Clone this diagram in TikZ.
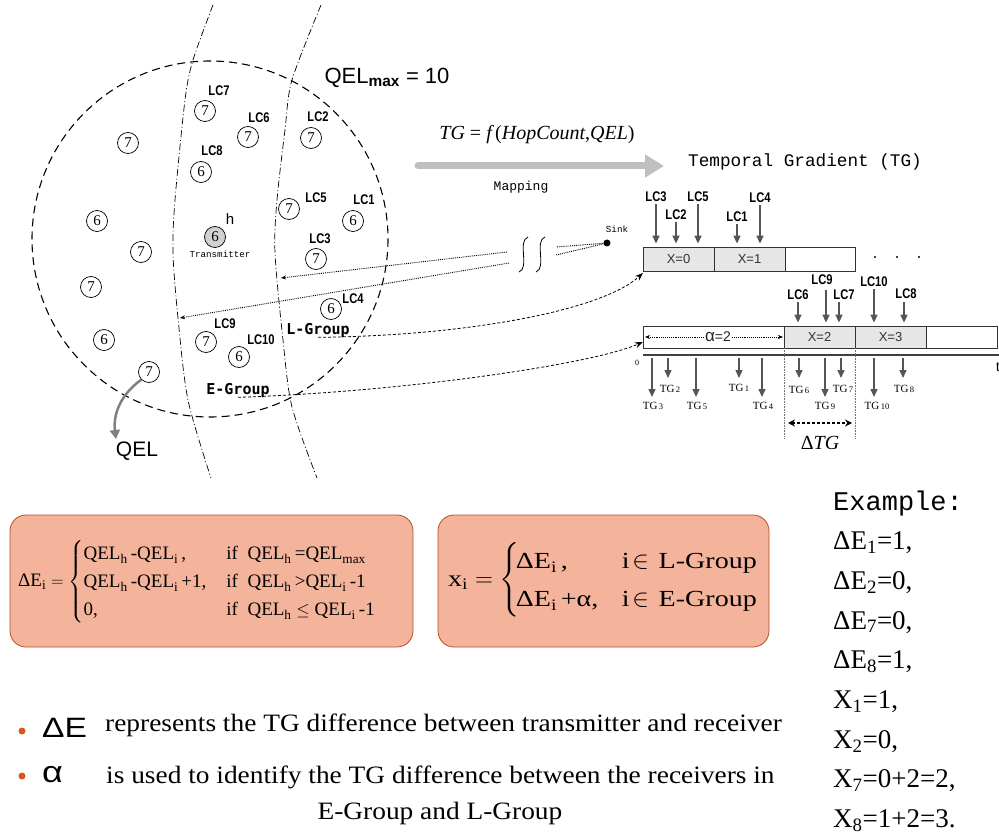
\documentclass[tikz,border=0pt]{standalone}
\usepackage{amsmath}
\usepackage{fontspec}
\setmainfont{Liberation Serif}
\setsansfont{Liberation Sans}
\setmonofont{Liberation Mono}
\newfontfamily\lcfont{Liberation Sans}[FakeStretch=0.8]
\newfontfamily\grpfont{DejaVu Sans Mono}
\newfontfamily\widefont{Liberation Serif}[FakeStretch=1.095]
\newfontfamily\fwide{Liberation Serif}[FakeStretch=1.22]
\newfontfamily\widesans{Liberation Sans}[FakeStretch=1.2]
\usetikzlibrary{arrows.meta}
\definecolor{boxfill}{HTML}{F4B39B}
\definecolor{boxline}{HTML}{B5502A}
\definecolor{arrgray}{HTML}{555555}
\definecolor{cellgray}{HTML}{E6E6E6}
\definecolor{bulletc}{HTML}{D9541E}
\newcommand\tgsub[1]{{\fontsize{8.5}{8.5}\selectfont\,#1}}
\begin{document}
\begin{tikzpicture}[x=1pt,y=-1pt,
  qn/.style={circle,draw,line width=0.7pt,minimum size=21pt,inner sep=0pt,font=\fontsize{15}{15}\selectfont},
  lc/.style={inner sep=0pt,font=\lcfont\bfseries\fontsize{14}{14}\selectfont},
  grp/.style={inner sep=0pt,font=\grpfont\bfseries\fontsize{15}{15}\selectfont},
  dashdot/.style={line width=0.7pt,dash pattern=on 7pt off 2.5pt on 1pt off 2.5pt},
  sinkline/.style={line width=0.9pt,densely dotted},
  sinkarrow/.style={sinkline,-{Stealth[length=5pt,width=4pt]}},
  curvarrow/.style={line width=0.8pt,dash pattern=on 3pt off 2pt,-{Stealth[length=8pt,width=6pt]}},
  garrow/.style={draw=arrgray,line width=1.5pt,-{Triangle[length=8pt,width=7pt]}},
  cell/.style={draw=black!80,line width=0.8pt,inner sep=0pt,text=black!80,font=\sffamily\fontsize{13}{13}\selectfont},
  tg/.style={inner sep=0pt,font=\fontsize{11}{11}\selectfont},
  fbox/.style={draw=boxline,fill=boxfill,line width=0.8pt,rounded corners=16pt,inner sep=0pt},
  exl/.style={anchor=base west,inner sep=0pt,font=\fontsize{27}{27}\selectfont},
  btext/.style={inner sep=0pt,font=\widefont\fontsize{25}{25}\selectfont}
]
\useasboundingbox (0,0) rectangle (999,837);

% big dashed circle and group borders
\draw[line width=1.1pt,dash pattern=on 8pt off 5pt] (210,239) circle[radius=178];
\draw[dashdot] plot[smooth] coordinates {(213,5) (193,60) (185,100) (175,200) (173,253) (178,318) (188,400) (211,478)};
\draw[dashdot] plot[smooth] coordinates {(321,5) (292,80) (285,130) (277,200) (275,253) (283,340) (292,407) (317,478)};

% nodes
\node[qn] (c1) at (128,143) {7};
\node[qn] (c2) at (205,111) {7};
\node[qn] (c3) at (248,137) {7};
\node[qn] (c4) at (311,138) {7};
\node[qn] (c5) at (201,172) {6};
\node[qn] (c6) at (289,209) {7};
\node[qn] (c7) at (353,221) {6};
\node[qn,fill=black!18] (c8) at (215,237) {6};
\node[qn] (c9) at (97,221) {6};
\node[qn] (c10) at (316,259) {7};
\node[qn] (c11) at (141,252) {7};
\node[qn] (c12) at (91,287) {7};
\node[qn] (c13) at (104,340) {6};
\node[qn] (c14) at (331,309) {6};
\node[qn] (c15) at (206,342) {7};
\node[qn] (c16) at (239,357) {6};
\node[qn] (c17) at (149,372) {7};

\node[lc] (l7) at (219,91) {LC7};
\node[lc] (l6) at (259,118) {LC6};
\node[lc] (l2) at (318,117) {LC2};
\node[lc] (l8) at (212,151) {LC8};
\node[lc] (l5) at (316,198) {LC5};
\node[lc] (l1) at (364,200) {LC1};
\node[lc] (l3) at (320,239) {LC3};
\node[lc] (l4) at (353,299) {LC4};
\node[lc] (l9) at (225,324) {LC9};
\node[lc] (l10) at (261,340) {LC10};
\node[inner sep=0pt,font=\sffamily\fontsize{15}{15}\selectfont] (hh) at (230,219) {h};
\node[inner sep=0pt,font=\ttfamily\fontsize{9.2}{9.2}\selectfont] (trm) at (220,254) {Transmitter};
\node[grp] (lg) at (318,330) {L-Group};
\node[grp] (eg) at (238,390) {E-Group};
\node[inner sep=0pt,font=\sffamily\fontsize{21}{21}\selectfont] (qel) at (137,451) {QEL};
\coordinate (qeltip) at (116,439);
\draw[draw=black!50,line width=2.5pt,-{Triangle[length=9pt,width=10pt]}] (c17.225) .. controls (120,395) and (113,415) .. (qeltip);

\node[inner sep=0pt,font=\sffamily\fontsize{22}{22}\selectfont] (qmax) at (387,78) {QEL\textsubscript{\bfseries max} = 10};

% mapping
\node[inner sep=0pt,font=\fontsize{20}{20}\selectfont] (tgf) at (537,135) {\itshape TG \upshape= \itshape f\,\upshape(\itshape HopCount\upshape,\itshape QEL\upshape)};
\coordinate (ma) at (418,166);
\coordinate (mb) at (664,166);
\draw[draw=black!25,line width=7pt,line cap=round,-{Triangle[length=19pt,width=22pt]}] (ma) -- (mb);
\node[anchor=west,inner sep=0pt,font=\ttfamily\fontsize{17.7}{17.7}\selectfont] (tgt) at (688,162) {Temporal Gradient (TG)};
\node[inner sep=0pt,font=\ttfamily\fontsize{13}{13}\selectfont] (mapp) at (521,187) {Mapping};

% sink
\node[circle,fill=black,inner sep=0pt,minimum size=7pt] (sink) at (607,243) {};
\node[inner sep=0pt,font=\ttfamily\fontsize{9.2}{9.2}\selectfont] (sinkl) at (617,229) {Sink};
\coordinate (sa1) at (556,247);
\coordinate (sb1) at (556,255);
\coordinate (sa2) at (507,252);
\coordinate (sa3) at (281,278);
\coordinate (sb2) at (509,263);
\coordinate (sb3) at (180,318);
\draw[sinkline] (sink) -- (sa1);
\draw[sinkline] (sink) -- (sb1);
\draw[sinkarrow] (sa2) -- (sa3);
\draw[sinkarrow] (sb2) -- (sb3);
\draw[line width=0.8pt] (528,237) .. controls (517,241) and (530,268) .. (519,272);
\draw[line width=0.8pt] (545,237) .. controls (534,241) and (547,268) .. (536,272);

% bar 1
\node[cell,fill=cellgray,minimum width=71pt,minimum height=24pt] (x0) at (678.5,259) {X=0};
\node[cell,fill=cellgray,minimum width=71pt,minimum height=24pt] (x1) at (749.5,259) {X=1};
\node[cell,minimum width=70pt,minimum height=24pt] (x2) at (820,259) {};
\foreach \dx in {875,897,919} \fill (\dx,257) circle[radius=1.2];

\node[lc] (a3) at (656,197) {LC3};
\node[lc] (a2) at (676,215) {LC2};
\node[lc] (a5) at (698,197) {LC5};
\node[lc] (a1) at (737,217) {LC1};
\node[lc] (a4) at (760,198) {LC4};
\foreach \n in {a3,a2,a5,a1,a4}
  \draw[garrow,shorten <=2pt,shorten >=3pt] (\n.south) -- (\n.south |- x0.north);

% bar 2
\node[cell,minimum width=141pt,minimum height=22pt] (y0) at (713.5,337) {};
\node[cell,fill=cellgray,minimum width=71pt,minimum height=22pt] (y1) at (819.5,337) {X=2};
\node[cell,fill=cellgray,minimum width=71pt,minimum height=22pt] (y2) at (890.5,337) {X=3};
\node[cell,minimum width=71pt,minimum height=22pt] (y3) at (961.5,337) {};
\node[inner sep=1pt,fill=white,font=\sffamily\fontsize{14}{14}\selectfont,text=black!85] (alp) at (718,337) {{\fontsize{17}{17}\selectfont α}=2};
\coordinate (al) at (645,337);
\coordinate (ar) at (783,337);
\draw[sinkline,line width=0.7pt,-{Stealth[length=5pt,width=4pt]}] (alp.west) -- (al);
\draw[sinkline,line width=0.7pt,-{Stealth[length=5pt,width=4pt]}] (alp.east) -- (ar);

\node[lc] (b6) at (798,295) {LC6};
\node[lc] (b9) at (822,280) {LC9};
\node[lc] (b7) at (844,295) {LC7};
\node[lc] (b10) at (874,282) {LC10};
\node[lc] (b8) at (906,294) {LC8};
\coordinate (b9a) at (826,290);
\coordinate (b7a) at (839,302);
\coordinate (b8a) at (904,302);
\draw[garrow,shorten <=2pt,shorten >=3pt] (b6.south) -- (b6.south |- y1.north);
\draw[garrow,shorten >=3pt] (b9a) -- (b9a |- y1.north);
\draw[garrow,shorten >=3pt] (b7a) -- (b7a |- y1.north);
\draw[garrow,shorten <=2pt,shorten >=3pt] (b10.south) -- (b10.south |- y2.north);
\draw[garrow,shorten >=3pt] (b8a) -- (b8a |- y2.north);

% axis
\coordinate (ax0) at (643,355);
\coordinate (ax1) at (999,355);
\draw[draw=black!75,line width=1.3pt] (ax0) -- (ax1);
\node[inner sep=0pt,font=\fontsize{16}{16}\selectfont] (tt) at (998,367) {t};
\node[inner sep=0pt,font=\fontsize{8}{8}\selectfont] (zero) at (637,363) {0};

\node[tg] (g3) at (653,406) {TG\tgsub{3}};
\node[tg] (g2) at (670,389) {TG\tgsub{2}};
\node[tg] (g5) at (697,406) {TG\tgsub{5}};
\node[tg] (g1) at (739,388) {TG\tgsub{1}};
\node[tg] (g4) at (763,406) {TG\tgsub{4}};
\node[tg] (g6) at (799,390) {TG\tgsub{6}};
\node[tg] (g9) at (825,406) {TG\tgsub{9}};
\node[tg] (g7) at (843,389) {TG\tgsub{7}};
\node[tg] (g10) at (877,406) {TG\tgsub{10}};
\node[tg] (g8) at (904,389) {TG\tgsub{8}};
\coordinate (p3) at (652,358);
\coordinate (p2) at (668,358);
\coordinate (p5) at (696,358);
\coordinate (p1) at (739,358);
\coordinate (p4) at (762,358);
\coordinate (p6) at (799,358);
\coordinate (p9) at (825,358);
\coordinate (p7) at (841,358);
\coordinate (p10) at (874,358);
\coordinate (p8) at (903,358);
\foreach \k in {3,5,4,9,10}
  \draw[garrow] (p\k) -- (p\k |- 0,397);
\foreach \k in {2,1,6,7,8}
  \draw[garrow] (p\k) -- (p\k |- 0,378);

% delta TG
\coordinate (d1a) at (784,348);
\coordinate (d1b) at (784,438);
\coordinate (d2a) at (855,348);
\coordinate (d2b) at (855,438);
\draw[draw=black!55,line width=0.6pt,densely dotted] (d1a) -- (d1b);
\draw[draw=black!55,line width=0.6pt,densely dotted] (d2a) -- (d2b);
\draw[line width=1.4pt,dash pattern=on 3pt off 2pt,{Stealth[length=7pt,width=7pt]}-{Stealth[length=7pt,width=7pt]}] (788,423) -- (852,423);
\node[inner sep=0pt,font=\fontsize{20}{20}\selectfont] (dtg) at (820,443) {Δ\itshape TG};

% dashed connectors
\coordinate (t1) at (643,273);
\coordinate (t2) at (643,342);
\draw[curvarrow] (lg.south) .. controls (460,336) and (600,312) .. (t1);
\draw[curvarrow] (eg.south) .. controls (400,392) and (590,365) .. (t2);

% formula boxes
\node[fbox,minimum width=403pt,minimum height=132pt] (box1) at (211.5,581) {};
\node[fbox,minimum width=331pt,minimum height=132pt] (box2) at (603.5,581) {};
\node[anchor=west,inner sep=0pt,font=\fontsize{19}{28}\selectfont] (f1) at (18,582)
 {$\text{ΔE}_{\text{i}}=\left\{\begin{array}{@{}l@{\hspace{20pt}}l@{}}
 \text{QEL}_{\text{h}}\text{\,-QEL}_{\text{i}}\text{\,,} & \text{if\ \ QEL}_{\text{h}}\text{\,=QEL}_{\text{max}}\\
 \text{QEL}_{\text{h}}\text{\,-QEL}_{\text{i}}\text{\,+1,} & \text{if\ \ QEL}_{\text{h}}\text{\,>QEL}_{\text{i}}\text{\,-1}\\
 \text{0,} & \text{if\ \ QEL}_{\text{h}}\leq\text{QEL}_{\text{i}}\text{\,-1}
 \end{array}\right.$};
\node[anchor=west,inner sep=0pt,font=\fwide\fontsize{23}{38}\selectfont] (f2) at (448,580)
 {$\text{x}_{\text{i}}=\left\{\!\begin{array}{@{}l@{}l@{}}
 \makebox[106pt][l]{$\text{ΔE}_{\text{i}}\text{\,,}$} & \text{i}\!\in\!\text{ L-Group}\\
 \makebox[106pt][l]{$\text{ΔE}_{\text{i}}\text{\,+α,}$} & \text{i}\!\in\!\text{ E-Group}
 \end{array}\right.$};

% bullets
\node[circle,fill=bulletc,inner sep=0pt,minimum size=7pt] (bu1) at (22,731) {};
\node[circle,fill=bulletc,inner sep=0pt,minimum size=7pt] (bu2) at (22,776) {};
\node[anchor=west,inner sep=0pt,font=\widesans\fontsize{28}{28}\selectfont] (de) at (42,728) {ΔE};
\node[anchor=west,inner sep=0pt,font=\widesans\fontsize{30}{30}\selectfont] (al2) at (42,775) {α};
\node[btext,anchor=west] (tx1) at (105,725) {represents the TG difference between transmitter and receiver};
\node[btext,anchor=west] (tx2) at (106,777) {is used to identify the TG difference between the receivers in};
\node[btext] (tx3) at (440,813) {E-Group and L-Group};

% example
\node[exl,font=\ttfamily\fontsize{27}{27}\selectfont] (e0) at (833,510) {Example:};
\node[exl] (e1) at (833,549.7) {ΔE\textsubscript{1}=1,};
\node[exl] (e2) at (833,589.4) {ΔE\textsubscript{2}=0,};
\node[exl] (e3) at (833,629.1) {ΔE\textsubscript{7}=0,};
\node[exl] (e4) at (833,668.8) {ΔE\textsubscript{8}=1,};
\node[exl] (e5) at (833,708.5) {X\textsubscript{1}=1,};
\node[exl] (e6) at (833,748.2) {X\textsubscript{2}=0,};
\node[exl] (e7) at (833,787.9) {X\textsubscript{7}=0+2=2,};
\node[exl] (e8) at (833,827.6) {X\textsubscript{8}=1+2=3.};
\end{tikzpicture}
\end{document}
